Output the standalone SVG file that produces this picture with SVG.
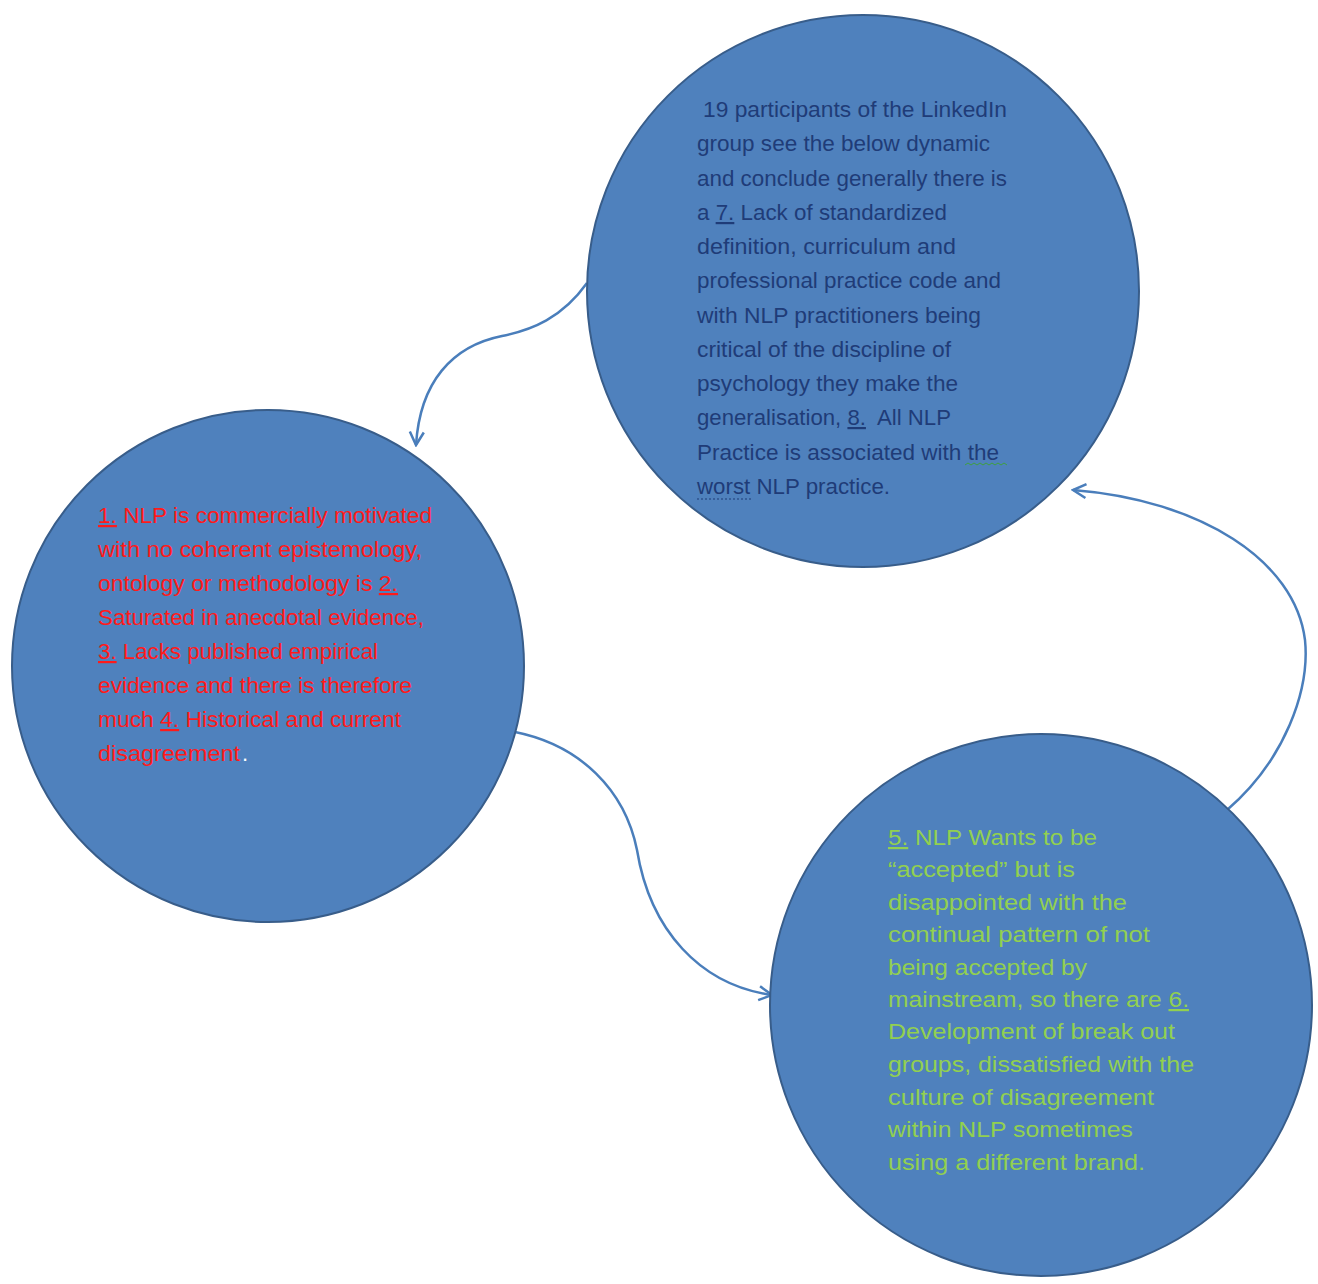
<svg xmlns="http://www.w3.org/2000/svg" width="1318" height="1284" viewBox="0 0 1318 1284">
<style>
.node{fill:#4f81bd;stroke:#385d8a;stroke-width:2}
.conn{fill:none;stroke:#4a7ebb;stroke-width:2.5}
.t{font-family:"Liberation Sans",Arial,sans-serif;font-size:22px}
.navy{fill:#1f3c78}
.red{fill:#ff1a1a}
.green{fill:#92d050}
.u{text-decoration:underline}
.pre{white-space:pre}
</style>
<defs>
<marker id="arr" markerUnits="userSpaceOnUse" markerWidth="18" markerHeight="18" viewBox="0 0 18 18" refX="16" refY="9" orient="auto">
<path d="M3,2 L16,9 L3,16" fill="none" stroke="#4a7ebb" stroke-width="2.5"/>
</marker>
</defs>
<rect width="1318" height="1284" fill="#ffffff"/>
<g id="connectors">
<path class="conn" d="M587,283 C562,318 532,330 502,336 C452,346 420,382 416,445" marker-end="url(#arr)"/>
<path class="conn" d="M515,732 C580,745 625,790 637,850 C650,930 700,985 772,995" marker-end="url(#arr)"/>
<path class="conn" d="M1227,810 C1285,760 1310,690 1305,640 C1295,560 1200,500 1073,490" marker-end="url(#arr)"/>
</g>
<g id="node-top">
<circle class="node" cx="863" cy="291" r="276"/>
<g class="t navy">
<text x="703" y="117" textLength="304" lengthAdjust="spacingAndGlyphs">19 participants of the LinkedIn</text>
<text x="697" y="151" textLength="293" lengthAdjust="spacingAndGlyphs">group see the below dynamic</text>
<text x="697" y="186" textLength="310" lengthAdjust="spacingAndGlyphs">and conclude generally there is</text>
<text x="697" y="220" textLength="250" lengthAdjust="spacingAndGlyphs">a <tspan class="u">7.</tspan> Lack of standardized</text>
<text x="697" y="254" textLength="259" lengthAdjust="spacingAndGlyphs">definition, curriculum and</text>
<text x="697" y="288" textLength="304" lengthAdjust="spacingAndGlyphs">professional practice code and</text>
<text x="697" y="323" textLength="284" lengthAdjust="spacingAndGlyphs">with NLP practitioners being</text>
<text x="697" y="357" textLength="254" lengthAdjust="spacingAndGlyphs">critical of the discipline of</text>
<text x="697" y="391" textLength="261" lengthAdjust="spacingAndGlyphs">psychology they make the</text>
<text class="pre" x="697" y="425" textLength="254" lengthAdjust="spacingAndGlyphs">generalisation, <tspan class="u">8.</tspan>  All NLP</text>
<text x="697" y="460" textLength="302" lengthAdjust="spacingAndGlyphs">Practice is associated with the</text>
<text x="697" y="494" textLength="193" lengthAdjust="spacingAndGlyphs">worst NLP practice.</text>
</g>
<path d="M965,465 l3,-2 l3,2 l3,-2 l3,2 l3,-2 l3,2 l3,-2 l3,2 l3,-2 l3,2 l3,-2 l3,2 l3,-2 l3,2" fill="none" stroke="#3fa03f" stroke-width="1"/>
<path d="M697,499 L752,499" fill="none" stroke="#1f3c78" stroke-width="1.2" stroke-dasharray="2,2"/>
</g>
<g id="node-left">
<circle class="node" cx="268" cy="666" r="256"/>
<g class="t red">
<text x="98" y="523" textLength="334" lengthAdjust="spacingAndGlyphs"><tspan class="u">1.</tspan> NLP is commercially motivated</text>
<text x="98" y="557" textLength="324" lengthAdjust="spacingAndGlyphs">with no coherent epistemology,</text>
<text x="98" y="591" textLength="300" lengthAdjust="spacingAndGlyphs">ontology or methodology is <tspan class="u">2.</tspan></text>
<text x="98" y="625" textLength="326" lengthAdjust="spacingAndGlyphs">Saturated in anecdotal evidence,</text>
<text x="98" y="659" textLength="280" lengthAdjust="spacingAndGlyphs"><tspan class="u">3.</tspan> Lacks published empirical</text>
<text x="98" y="693" textLength="314" lengthAdjust="spacingAndGlyphs">evidence and there is therefore</text>
<text x="98" y="727" textLength="303" lengthAdjust="spacingAndGlyphs">much <tspan class="u">4.</tspan> Historical and current</text>
<text x="98" y="761" textLength="142" lengthAdjust="spacingAndGlyphs">disagreement</text>
<text x="242" y="761" fill="#ffffff">.</text>
</g>
</g>
<g id="node-bottom">
<circle class="node" cx="1041" cy="1005" r="271"/>
<g class="t green">
<text x="888" y="845" textLength="209" lengthAdjust="spacingAndGlyphs"><tspan class="u">5.</tspan> NLP Wants to be</text>
<text x="888" y="877" textLength="187" lengthAdjust="spacingAndGlyphs">“accepted” but is</text>
<text x="888" y="910" textLength="239" lengthAdjust="spacingAndGlyphs">disappointed with the</text>
<text x="888" y="942" textLength="262" lengthAdjust="spacingAndGlyphs">continual pattern of not</text>
<text x="888" y="975" textLength="199" lengthAdjust="spacingAndGlyphs">being accepted by</text>
<text x="888" y="1007" textLength="301" lengthAdjust="spacingAndGlyphs">mainstream, so there are <tspan class="u">6.</tspan></text>
<text x="888" y="1039" textLength="287" lengthAdjust="spacingAndGlyphs">Development of break out</text>
<text x="888" y="1072" textLength="306" lengthAdjust="spacingAndGlyphs">groups, dissatisfied with the</text>
<text x="888" y="1105" textLength="266" lengthAdjust="spacingAndGlyphs">culture of disagreement</text>
<text x="888" y="1137" textLength="245" lengthAdjust="spacingAndGlyphs">within NLP sometimes</text>
<text x="888" y="1170" textLength="257" lengthAdjust="spacingAndGlyphs">using a different brand.</text>
</g>
</g>
</svg>
